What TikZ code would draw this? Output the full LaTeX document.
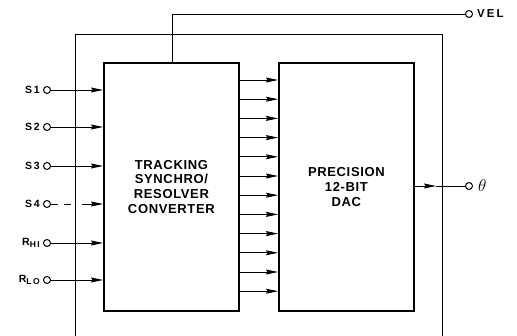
\documentclass[tikz,border=0pt]{standalone}
\usepackage{fontspec}
\setmainfont{Liberation Sans}
\newfontfamily\blkfont[LetterSpace=5]{Liberation Sans}
\newfontfamily\lblfont[LetterSpace=18]{Liberation Sans}
\usetikzlibrary{arrows.meta,calc}
\begin{document}
\begin{tikzpicture}[x=1pt,y=-1pt,
  blk/.style={draw,line width=1.8pt,minimum width=135pt,minimum height=248pt,anchor=north west,inner sep=0pt,align=center,font=\blkfont\fontsize{13}{14.8}\selectfont\bfseries},
  port/.style={circle,draw,line width=1pt,minimum size=7pt,inner sep=0pt},
  lbl/.style={font=\lblfont\fontsize{10.5}{12}\selectfont\bfseries,inner sep=0pt},
  sub/.style={},
  arr/.style={line width=0.9pt,-{Stealth[length=12pt,width=5pt,inset=1.5pt]}},
  wire/.style={line width=0.9pt}]
\useasboundingbox (0,0) rectangle (517,336);
% outer frame
\coordinate (fbl) at (75,336);
\coordinate (ftl) at (75,34);
\coordinate (ftr) at (442,34);
\coordinate (fbr) at (442,336);
\draw[wire] (fbl) -- (ftl) -- (ftr) -- (fbr);
% blocks
\node[blk] (conv) at (103,62) {TRACKING\\SYNCHRO/\\RESOLVER\\CONVERTER};
\node[blk] (dac) at (278,62) {PRECISION\\12-BIT\\DAC};
% inputs
\foreach \n/\y/\t in {s1/90/S1,s2/127/S2,s3/166/S3,rhi/243/R\raisebox{-2.5pt}{\fontsize{8.5}{9}\selectfont HI},rlo/280/R\raisebox{-2.5pt}{\fontsize{8.5}{9}\selectfont LO}}{
  \node[port] (\n) at (47,\y) {};
  \node[lbl,anchor=east] at ([xshift=-3pt]\n.west) {\t};
  \draw[arr] (\n.east) -- (\n.east -| conv.west);
}
\node[port] (s4) at (47,204) {};
\node[lbl,anchor=east] at ([xshift=-3pt]s4.west) {S4};
\draw[wire,dash pattern=on 7pt off 6pt] (s4.east) -- ++(26,0) coordinate (s4m);
\draw[arr] ($(s4m)+(5,0)$) coordinate (s4n) -- (s4n -| conv.west);
% parallel bus
\foreach \i in {0,...,11}{
  \draw[arr] ($(conv.north east)+(0,18+19.2*\i)$) coordinate (b\i) -- (b\i -| dac.west);
}
% VEL output
\node[port] (vel) at (469,14) {};
\node[lbl,anchor=west,font=\lblfont\fontsize{11.5}{12}\selectfont\bfseries] at ([xshift=4pt]vel.east) {VEL};
\coordinate (vtap) at ($(conv.north west)+(69,0)$);
\draw[wire] (vtap) |- (vel.west);
% theta output
\node[port] (th) at (469,186) {};
\node[anchor=west,inner sep=0pt,font=\fontsize{16}{17}\selectfont] at ([xshift=5pt]th.east) {$\theta$};
\coordinate (tarr) at (436,186);
\draw[arr] (th.west -| dac.east) -- (tarr);
\draw[wire] (tarr) -- (th.west);
\end{tikzpicture}
\end{document}
